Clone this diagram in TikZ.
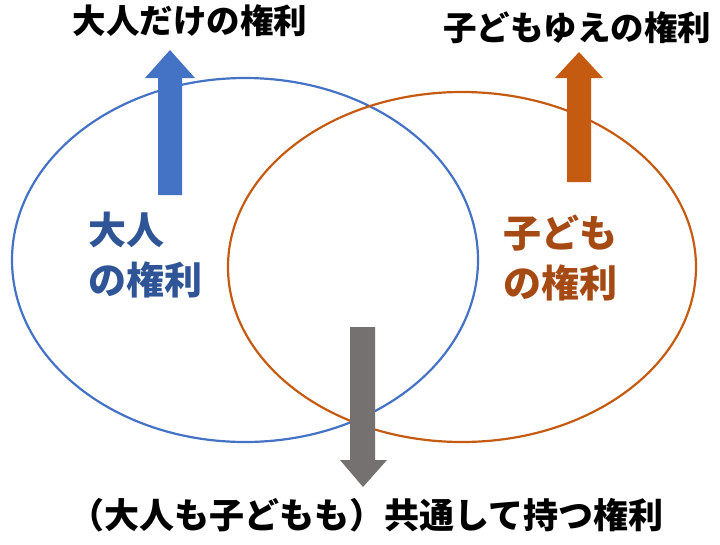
\documentclass[tikz,border=0pt]{standalone}
\usepackage{fontspec}
\newfontfamily\jp{Noto Sans CJK JP}
\definecolor{adultblue}{RGB}{68,114,196}
\definecolor{adulttext}{RGB}{47,85,151}
\definecolor{childorange}{RGB}{197,90,17}
\definecolor{childtext}{RGB}{166,74,20}
\definecolor{sharedgray}{RGB}{118,113,113}
\tikzset{every picture/.style={line width=0.75pt}}
\tikzset{
  label/.style={font=\jp\bfseries\fontsize{33.5}{38}\selectfont, inner sep=0pt},
  big/.style={font=\jp\bfseries\fontsize{38}{50}\selectfont, align=left, inner sep=0pt},
}
\begin{document}
\begin{tikzpicture}[x=1pt,y=1pt,yscale=-1]
\useasboundingbox (0,0) rectangle (720,544);
% circles
\draw [adultblue, line width=2.2pt] (245,260) ellipse [x radius=233, y radius=182];
\draw [childorange, line width=2.2pt] (462,267) ellipse [x radius=234, y radius=175];
% arrows
\fill [adultblue] (158,195) -- (158,78) -- (145,78) -- (170,50) -- (195,78) -- (182,78) -- (182,195) -- cycle;
\fill [childorange] (567,182) -- (567,78) -- (555,78) -- (579,52) -- (603,78) -- (591,78) -- (591,182) -- cycle;
\fill [sharedgray] (350,327) -- (350,460) -- (340,460) -- (363,487) -- (387,460) -- (375,460) -- (375,327) -- cycle;
% texts
\node [label] (adultonly) at (190,21) {大人だけの権利};
\node [label] (childonly) at (577,28) {子どもゆえの権利};
\node [big, text=adulttext] (adult) at (145,255) {大人\\の権利};
\node [big, text=childtext] (child) at (560,258) {子ども\\の権利};
\node [label, font=\jp\bfseries\fontsize{35}{40}\selectfont] (shared) at (366,515) {（大人も子どもも）共通して持つ権利};
\end{tikzpicture}
\end{document}
